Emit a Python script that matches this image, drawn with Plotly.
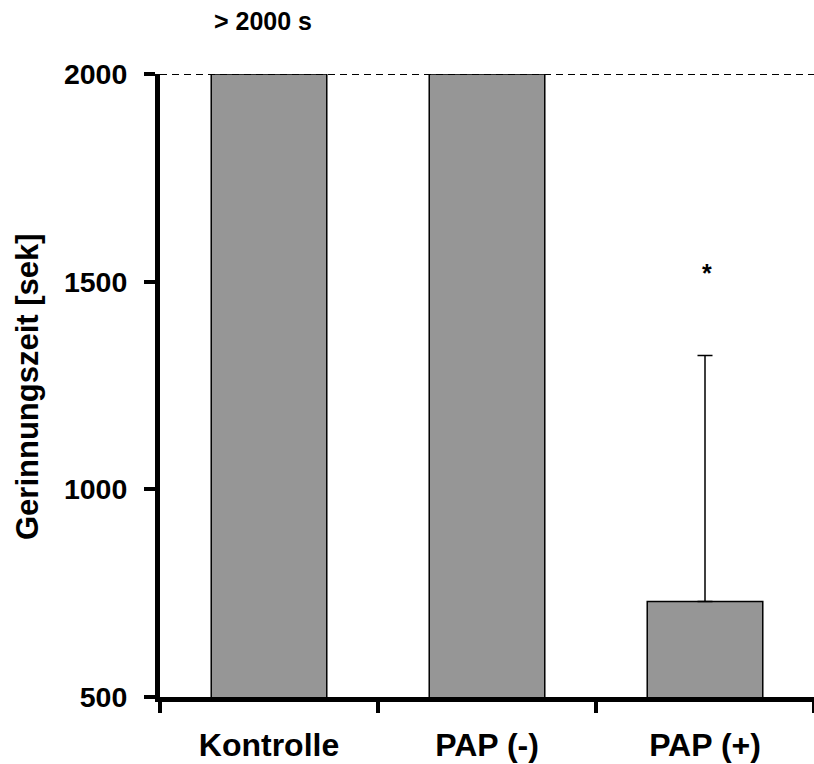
import plotly.graph_objects as go

# Gerinnungszeit je Gruppe (Mittelwert, obere Standardabweichung)
groups = ["Kontrolle", "PAP (-)", "PAP (+)"]
clot_time = [2000, 2000, 730]
err_upper = [None, None, 592]
y_ticks = [500, 1000, 1500, 2000]
limit = 2000
signif_y = 1531

FONT = "Liberation Sans, Arial, sans-serif"
BAR_GREY = "#969696"

fig = go.Figure()

fig.add_trace(go.Bar(
    x=groups,
    y=clot_time,
    width=0.53,
    marker=dict(color=BAR_GREY, line=dict(color="black", width=1.5)),
    showlegend=False,
    hoverinfo="x+y",
))

# obere Fehlerbalken nur dort, wo ein Wert vorliegt
err_x = [g for g, e in zip(groups, err_upper) if e is not None]
err_y = [v for v, e in zip(clot_time, err_upper) if e is not None]
err_v = [e for e in err_upper if e is not None]
fig.add_trace(go.Scatter(
    x=err_x,
    y=err_y,
    mode="markers",
    marker=dict(size=0.1, color="rgba(0,0,0,0)"),
    error_y=dict(type="data", array=err_v, arrayminus=[0] * len(err_v),
                 symmetric=False, color="black", thickness=1.5, width=7.5),
    showlegend=False,
    hoverinfo="skip",
))

# gestrichelte Obergrenze der Messung
fig.add_shape(type="line", xref="paper", x0=0, x1=1, yref="y", y0=limit, y1=limit,
              line=dict(color="black", width=2, dash="7px,5px"), layer="above")

fig.add_annotation(x=groups[2], y=signif_y, xref="x", yref="y", text="*",
                   showarrow=False, font=dict(family=FONT, size=25, color="black", weight="bold"),
                   yanchor="middle", yshift=-4, xshift=2)

fig.add_annotation(x=0.1575, y=1.085, xref="paper", yref="paper", text="> 2000 s",
                   showarrow=False, font=dict(family=FONT, size=25, color="black", weight="bold"),
                   xanchor="center", yanchor="middle")

fig.add_annotation(x=-0.2018, y=0.4976, xref="paper", yref="paper",
                   text="Gerinnungszeit [sek]", textangle=-90, showarrow=False,
                   font=dict(family=FONT, size=31, color="black", weight="bold"),
                   xanchor="center", yanchor="middle")

fig.update_xaxes(
    type="category",
    range=[-0.5, 2.5],
    showline=True, linecolor="black", linewidth=5,
    ticks="outside", tickson="boundaries", ticklen=11, tickwidth=4, tickcolor="black",
    tickfont=dict(family=FONT, size=32, color="black", weight="bold"),
    ticklabelstandoff=16,
    showgrid=False, zeroline=False,
)

fig.update_yaxes(
    range=[500, 2000],
    tickvals=y_ticks,
    showline=True, linecolor="black", linewidth=5,
    ticks="outside", ticklen=11, tickwidth=4, tickcolor="black",
    tickfont=dict(family=FONT, size=28.5, color="black", weight="bold"),
    ticklabelstandoff=11,
    showgrid=False, zeroline=False,
)

fig.update_layout(
    width=814, height=764,
    margin=dict(l=160, r=0, t=74, b=67),
    paper_bgcolor="white", plot_bgcolor="white",
    bargap=0.47,
)

fig.write_html("out.html")
